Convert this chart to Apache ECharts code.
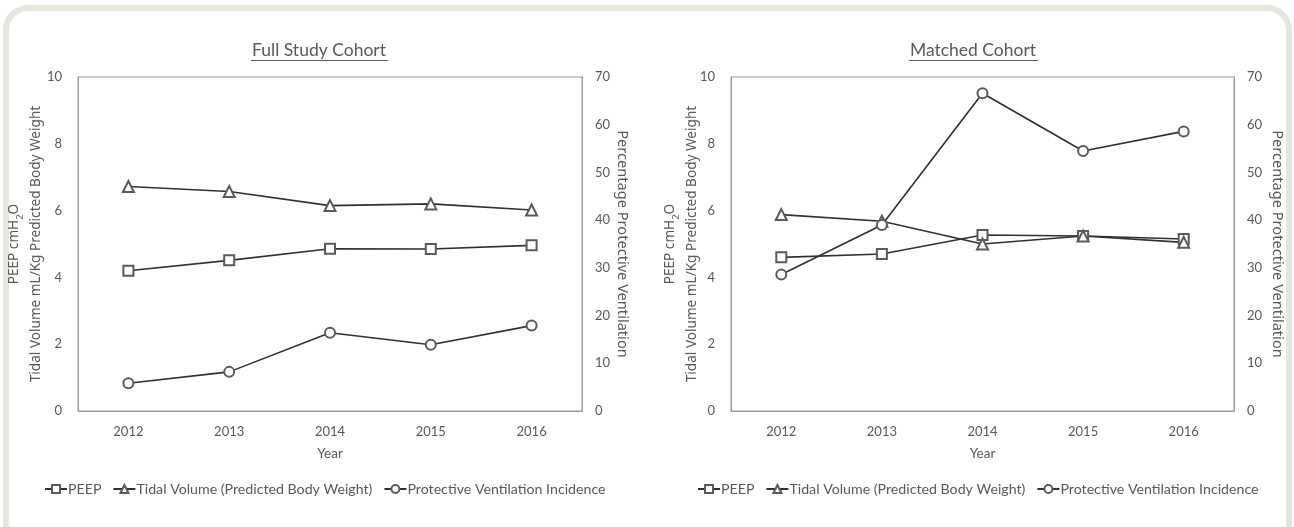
<!DOCTYPE html>
<html><head><meta charset="utf-8">
<script src="https://cdn.jsdelivr.net/npm/echarts@6/dist/echarts.min.js"></script>
<style>html,body{margin:0;padding:0;background:#fff}#c{width:1294px;height:527px}</style>
</head><body><div id="c"></div>
<script>
const years = ['2012','2013','2014','2015','2016'];
const titles = ['Full Study Cohort','Matched Cohort'];
const seriesNames = ['PEEP','Tidal Volume (Predicted Body Weight)','Protective Ventilation Incidence'];
// Full Study Cohort
const fullPeep = [4.20, 4.51, 4.86, 4.85, 4.96];
const fullTidal = [6.72, 6.57, 6.15, 6.20, 6.02];
const fullProtective = [5.8, 8.2, 16.4, 13.9, 17.9];
// Matched Cohort
const matchedPeep = [4.60, 4.70, 5.27, 5.24, 5.15];
const matchedTidal = [5.88, 5.68, 5.00, 5.24, 5.05];
const matchedProtective = [28.6, 39.0, 66.6, 54.5, 58.6];

const txt = '#595959';
const lineCol = '#303030';
const markCol = '#5a5a5a';
const fontMain = 'Lato';
const fontName = 'Noto Sans';

const grids = [
  {left: 78, right: 1294 - 582, top: 77, height: 334},
  {left: 731, right: 1294 - 1234, top: 77, height: 334}
];

const xAxes = grids.map((g, i) => ({
  type: 'category', gridIndex: i, data: years, boundaryGap: true,
  axisLine: {show: true, lineStyle: {color: '#9a9a9a', width: 1}},
  axisTick: {show: false},
  axisLabel: {color: txt, fontFamily: fontMain, fontSize: 13, margin: 14},
  name: 'Year', nameLocation: 'middle', nameGap: 36,
  nameTextStyle: {color: txt, fontFamily: fontMain, fontSize: 13.5}
}));

const yName = '{a|PEEP cmH}{s|2}{a|O}\n{a|Tidal Volume mL/Kg Predicted Body Weight}';
const yAxes = [];
grids.forEach((g, i) => {
  yAxes.push({
    type: 'value', gridIndex: i, min: 0, max: 10, interval: 2, position: 'left',
    axisLine: {show: true, lineStyle: {color: '#9a9a9a'}},
    axisTick: {show: false}, splitLine: {show: false},
    axisLabel: {color: txt, fontFamily: fontMain, fontSize: 13, margin: 16},
    name: yName, nameLocation: 'middle', nameGap: i === 0 ? 31 : 28, nameRotate: 90,
    nameMoveOverlap: false,
    nameTextStyle: {
      color: txt, fontFamily: fontName, fontSize: 13.6, lineHeight: 22,
      rich: {
        a: {color: txt, fontFamily: fontName, fontSize: 13.6, lineHeight: 22},
        s: {color: txt, fontFamily: fontName, fontSize: 9.5, lineHeight: 22, verticalAlign: 'bottom', padding: [7, 0, 0, 0]}
      }
    }
  });
  yAxes.push({
    type: 'value', gridIndex: i, min: 0, max: 70, interval: 10, position: 'right',
    axisLine: {show: true, lineStyle: {color: '#9a9a9a'}},
    axisTick: {show: false}, splitLine: {show: false},
    axisLabel: {color: txt, fontFamily: fontMain, fontSize: 13, margin: 13},
    name: 'Percentage Protective Ventilation', nameLocation: 'middle', nameGap: i === 0 ? 33 : 36, nameRotate: -90,
    nameTextStyle: {color: txt, fontFamily: fontName, fontSize: 14.6}
  });
});

function mk(name, data, xi, yi, sym) {
  return {
    name, type: 'line', data, xAxisIndex: xi, yAxisIndex: yi,
    symbol: sym, symbolSize: sym === 'emptyTriangle' ? 11 : 10, showSymbol: true,
    lineStyle: {color: lineCol, width: 1.6},
    itemStyle: {color: markCol, borderWidth: 1.2},
    emphasis: {disabled: true}, animation: false
  };
}
const series = [
  mk(seriesNames[0], fullPeep, 0, 0, 'emptyRect'),
  mk(seriesNames[1], fullTidal, 0, 0, 'emptyTriangle'),
  mk(seriesNames[2], fullProtective, 0, 1, 'emptyCircle'),
  mk(seriesNames[0], matchedPeep, 1, 2, 'emptyRect'),
  mk(seriesNames[1], matchedTidal, 1, 2, 'emptyTriangle'),
  mk(seriesNames[2], matchedProtective, 1, 3, 'emptyCircle')
];

const legends = [39, 692].map(lx => ({
  data: seriesNames, left: lx, top: 477, orient: 'horizontal',
  itemWidth: 22, itemHeight: 10, itemGap: 11,
  textStyle: {color: txt, fontFamily: fontMain, fontSize: 14.2, padding: [0, 0, 0, -4]},
  selectedMode: false
}));

const chart = echarts.init(document.getElementById('c'), null, {renderer: 'canvas'});
chart.setOption({
  backgroundColor: '#fff',
  animation: false,
  graphic: [
    {type: 'rect', z: -10, silent: true, shape: {x: 6, y: 8, width: 1283, height: 620, r: 22}, style: {fill: '#fff', stroke: '#e8e5df', lineWidth: 6}},
    {type: 'text', silent: true, x: 319, y: 50, style: {text: titles[0], fill: txt, font: '17.5px Lato', textAlign: 'center', textVerticalAlign: 'middle'}},
    {type: 'text', silent: true, x: 973, y: 50, style: {text: titles[1], fill: txt, font: '17.5px Lato', textAlign: 'center', textVerticalAlign: 'middle'}},
    {type: 'line', silent: true, shape: {x1: 251, y1: 60.5, x2: 388, y2: 60.5}, style: {stroke: txt, lineWidth: 1}},
    {type: 'line', silent: true, shape: {x1: 909, y1: 60.5, x2: 1038, y2: 60.5}, style: {stroke: txt, lineWidth: 1}}
  ],
  grid: grids.map(g => Object.assign({show: true, borderColor: '#9a9a9a', borderWidth: 1, backgroundColor: 'transparent', containLabel: false, outerBoundsMode: 'none'}, g)),
  xAxis: xAxes,
  yAxis: yAxes,
  legend: legends,
  series
});
</script></body></html>
